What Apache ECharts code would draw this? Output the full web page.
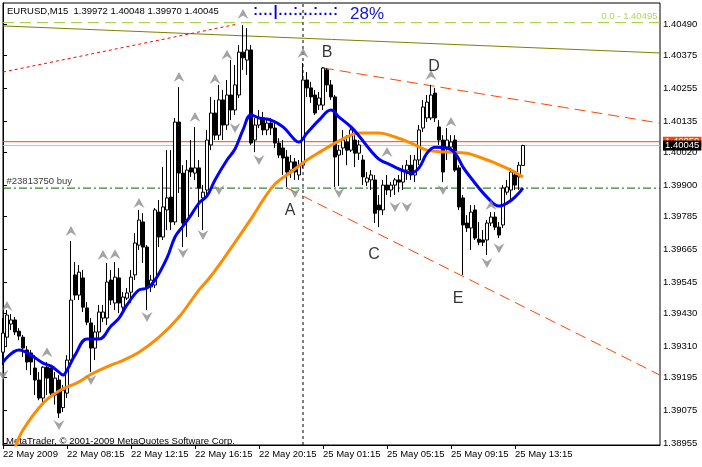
<!DOCTYPE html>
<html><head><meta charset="utf-8">
<script src="https://cdn.jsdelivr.net/npm/echarts@6/dist/echarts.min.js"></script>
<style>html,body{margin:0;padding:0;background:#fff}#c{width:702px;height:467px}</style>
</head><body><div id="c"></div>
<script>
const symbolInfo = 'EURUSD,M15  1.39972 1.40048 1.39970 1.40045';
const copyright = 'MetaTrader, \u00a9 2001-2009 MetaQuotes Software Corp.';
const progressText = ':...|...:...:...:';
const progressPct = '28%';
const timeLabels = ['22 May 2009','22 May 08:15','22 May 12:15','22 May 16:15','22 May 20:15','25 May 01:15','25 May 05:15','25 May 09:15','25 May 13:15'];
const timeLabelBars = [0,16,32,48,64,80,96,112,128];
const priceTicks = [1.38955,1.39075,1.39195,1.39310,1.39430,1.39545,1.39665,1.39785,1.39900,1.40020,1.40135,1.40255,1.40375,1.40490];
// [open, close, low, high]
const candles = [
[1.39288,1.39358,1.39241,1.39413],[1.39343,1.39424,1.39307,1.39442],[1.39391,1.39406,1.39369,1.39428],[1.39406,1.39362,1.39351,1.39417],[1.39365,1.39347,1.39332,1.39376],
[1.39343,1.39303,1.39270,1.39351],[1.39296,1.39252,1.39222,1.39310],[1.39285,1.39252,1.39204,1.39296],[1.39230,1.39186,1.39131,1.39277],[1.39186,1.39120,1.39112,1.39215],
[1.39120,1.39233,1.39105,1.39237],[1.39233,1.39193,1.39131,1.39252],[1.39230,1.39138,1.39120,1.39230],[1.39131,1.39193,1.39096,1.39215],[1.39186,1.39065,1.39047,1.39204],
[1.39085,1.39149,1.39069,1.39168],[1.39138,1.39259,1.39120,1.39277],[1.39259,1.39479,1.39241,1.39695],[1.39571,1.39497,1.39479,1.39618],[1.39497,1.39581,1.39479,1.39607],
[1.39560,1.39453,1.39435,1.39589],[1.39450,1.39398,1.39387,1.39472],[1.39395,1.39303,1.39215,1.39413],[1.39303,1.39362,1.39259,1.39387],[1.39362,1.39435,1.39340,1.39461],
[1.39413,1.39435,1.39398,1.39461],[1.39413,1.39545,1.39387,1.39615],[1.39552,1.39479,1.39461,1.39589],[1.39468,1.39563,1.39442,1.39618],[1.39560,1.39468,1.39431,1.39596],
[1.39453,1.39490,1.39424,1.39508],[1.39486,1.39505,1.39479,1.39523],[1.39508,1.39563,1.39468,1.39589],[1.39571,1.39688,1.39552,1.39724],[1.39680,1.39772,1.39662,1.39809],
[1.39765,1.39673,1.39615,1.39797],[1.39673,1.39527,1.39442,1.39680],[1.39527,1.39552,1.39508,1.39571],[1.39534,1.39809,1.39523,1.39816],[1.39801,1.39710,1.39673,1.39845],
[1.39710,1.39820,1.39699,1.39966],[1.39809,1.39853,1.39735,1.40028],[1.39856,1.39765,1.39735,1.40028],[1.39765,1.40131,1.39754,1.40146],[1.40131,1.39944,1.39871,1.40259],
[1.39944,1.39761,1.39673,1.39973],[1.39772,1.39955,1.39710,1.39992],[1.39963,1.39948,1.39930,1.40065],[1.39944,1.39963,1.39919,1.40113],[1.39963,1.39889,1.39783,1.39992],
[1.39853,1.39874,1.39735,1.39900],[1.39882,1.40065,1.39864,1.40102],[1.40047,1.40164,1.40028,1.40223],[1.40164,1.40083,1.40065,1.40212],[1.40083,1.40212,1.40065,1.40267],
[1.40212,1.40120,1.40065,1.40248],[1.40120,1.40230,1.40102,1.40285],[1.40230,1.40175,1.40138,1.40358],[1.40175,1.40267,1.40157,1.40340],[1.40230,1.40387,1.40219,1.40413],
[1.40387,1.40366,1.40322,1.40486],[1.40358,1.40395,1.40303,1.40475],[1.40395,1.40054,1.40047,1.40413],[1.40065,1.40120,1.40021,1.40146],[1.40120,1.40146,1.40109,1.40175],
[1.40146,1.40102,1.40083,1.40168],[1.40102,1.40127,1.40083,1.40146],[1.40127,1.40109,1.40083,1.40146],[1.40109,1.40054,1.40036,1.40138],[1.40054,1.40010,1.39999,1.40072],
[1.40036,1.39999,1.39937,1.40065],[1.40003,1.39948,1.39893,1.40028],[1.39955,1.39985,1.39926,1.40010],[1.39985,1.39948,1.39919,1.39999],[1.39937,1.39973,1.39919,1.39992],
[1.39973,1.40285,1.39963,1.40347],[1.40285,1.40256,1.40223,1.40314],[1.40256,1.40223,1.40201,1.40278],[1.40230,1.40164,1.40157,1.40248],[1.40193,1.40219,1.40175,1.40241],
[1.40193,1.40329,1.40175,1.40333],[1.40322,1.40267,1.40241,1.40329],[1.40267,1.40223,1.40212,1.40285],[1.40223,1.40003,1.39893,1.40230],[1.40010,1.40028,1.39897,1.40047],
[1.40036,1.40065,1.40010,1.40102],[1.40058,1.40028,1.39973,1.40083],[1.40028,1.40102,1.40021,1.40120],[1.40065,1.40017,1.39966,1.40083],[1.40017,1.40047,1.39992,1.40065],
[1.39992,1.39930,1.39900,1.40010],[1.39911,1.39926,1.39897,1.39948],[1.39919,1.39937,1.39882,1.39955],[1.39919,1.39797,1.39761,1.39937],[1.39827,1.39809,1.39746,1.39864],
[1.39809,1.39900,1.39790,1.39919],[1.39900,1.39882,1.39864,1.39937],[1.39882,1.39900,1.39856,1.39911],[1.39900,1.39919,1.39864,1.39926],[1.39919,1.39911,1.39874,1.39937],
[1.39911,1.39955,1.39882,1.39973],[1.39955,1.39973,1.39919,1.39992],[1.39973,1.39937,1.39919,1.40010],[1.39937,1.39992,1.39911,1.40010],[1.39992,1.40102,1.39973,1.40120],
[1.40109,1.40186,1.40094,1.40212],[1.40146,1.40204,1.40131,1.40230],[1.40146,1.40230,1.40138,1.40267],[1.40237,1.40146,1.40131,1.40256],[1.40113,1.40065,1.40047,1.40138],
[1.40065,1.39948,1.39911,1.40083],[1.40039,1.40065,1.39992,1.40109],[1.40039,1.40058,1.40028,1.40083],[1.40065,1.39955,1.39948,1.40083],[1.39963,1.39820,1.39809,1.39973],
[1.39853,1.39754,1.39571,1.39864],[1.39761,1.39743,1.39728,1.39790],[1.39743,1.39801,1.39662,1.39827],[1.39809,1.39706,1.39699,1.39827],[1.39702,1.39691,1.39680,1.39765],
[1.39699,1.39691,1.39677,1.39735],[1.39699,1.39761,1.39644,1.39772],[1.39761,1.39783,1.39750,1.39801],[1.39783,1.39746,1.39735,1.39801],[1.39746,1.39717,1.39706,1.39765],
[1.39754,1.39889,1.39743,1.39900],[1.39874,1.39893,1.39864,1.39919],[1.39882,1.39948,1.39838,1.39963],[1.39937,1.39900,1.39882,1.39948],[1.39930,1.39973,1.39882,1.39985],
[1.39972,1.40045,1.39970,1.40048]
];
// [bar, price]
const fastMA = [[0,1.39252],[4,1.39296],[7,1.39277],[10,1.39248],[12,1.39237],[14,1.39215],[15,1.39204],[16,1.39222],[18,1.39277],[21,1.39336],[24,1.39336],[27,1.39384],[29,1.39413],[31,1.39461],[34,1.39516],[36,1.39523],[38,1.39552],[41,1.39633],[43,1.39710],[45,1.39750],[47,1.39790],[49,1.39834],[51,1.39860],[53,1.39919],[56,1.39992],[58,1.40032],[60,1.40102],[62,1.40157],[64,1.40146],[67,1.40138],[70,1.40113],[73,1.40065],[74,1.40058],[76,1.40091],[79,1.40138],[82,1.40175],[84,1.40149],[87,1.40113],[89,1.40080],[92,1.40025],[94,1.39995],[97,1.39973],[99,1.39959],[102,1.39944],[104,1.39963],[106,1.40017],[108,1.40039],[111,1.40036],[113,1.40017],[115,1.39966],[117,1.39926],[121,1.39856],[124,1.39823],[126,1.39834],[128,1.39856],[130,1.39889]];
const slowMA = [[3,1.38937],[5,1.39003],[10,1.39101],[14,1.39146],[19,1.39179],[22,1.39207],[27,1.39241],[29,1.39252],[34,1.39288],[39,1.39343],[44,1.39417],[49,1.39516],[52,1.39567],[57,1.39669],[62,1.39776],[65,1.39845],[68,1.39904],[72,1.39948],[76,1.39992],[80,1.40028],[83,1.40054],[87,1.40083],[89,1.40091],[94,1.40091],[98,1.40076],[102,1.40054],[106,1.40028],[111,1.40021],[116,1.40017],[119,1.40003],[123,1.39981],[127,1.39955],[130,1.39930]];
const upFractals = [[1,1.39457],[11,1.39288],[17,1.39732],[25,1.39644],[28,1.39647],[34,1.39834],[44,1.40296],[48,1.40149],[53,1.40289],[56,1.40377],[60,1.40527],[75,1.40384],[96,1.40021],[107,1.40303],[112,1.40131],[122,1.39827]];
const downFractals = [[0,1.39204],[14,1.39021],[22,1.39186],[36,1.39417],[45,1.39651],[50,1.39717],[54,1.39882],[58,1.40109],[64,1.39992],[73,1.39871],[84,1.39871],[98,1.39820],[101,1.39820],[110,1.39882],[121,1.39615],[124,1.39669]];
const waveLabels = [['A',71.75,1.39805],['B',81,1.40384],['C',92.75,1.39644],['D',107.75,1.40333],['E',113.75,1.39483]];
const oliveLine = [[0,1.40483],[164.25,1.40384]];
const redDotLine = [[0,1.40314],[58,1.40488]];
const upperChannel = [[80,1.40329],[164.25,1.40127]];
const lowerChannel = [[71,1.39889],[164.25,1.39204]];
const fibLevel = 1.40495, redLevel = 1.40059, bidLevel = 1.40045, orderLevel = 1.39889, markerBar = 75;
const firstBar = 0, lastBar = 164.25;
const fibText = '0.0 - 1.40495';
const orderText = '#23813750 buy';

const FONT = 'Liberation Sans';
const chart = echarts.init(document.getElementById('c'), null, {renderer: 'canvas'});
const upPath = 'path://M5,0 L10,10 L5,6.5 L0,10 Z';
const downPath = 'path://M0,0 L5,3.5 L10,0 L5,10 Z';
function seg(data, color, type, width, extra) {
  return Object.assign({type: 'line', data: data, showSymbol: false, symbol: 'none', silent: true, z: 1,
    lineStyle: {color: color, type: type, width: width || 1}}, extra || {});
}
function level(v) { return [[firstBar, v], [lastBar, v]]; }
function boxLabel(v, bg) {
  return {endLabel: {show: true, formatter: v.toFixed(5), color: '#fff', backgroundColor: bg, padding: [0, 2], lineHeight: 10,
    fontSize: 9.5, fontFamily: FONT, distance: 3}};
}
const progRich = progressText.split('').map(ch => ch === '|' ? '{b||}' : (ch === ':' ? '{c|:}' : '{d|.}')).join('');
chart.setOption({
  animation: false,
  backgroundColor: '#fff',
  textStyle: {fontFamily: FONT},
  grid: {left: 3, right: 42, top: 3, bottom: 22, show: true, borderColor: '#000', borderWidth: 1, backgroundColor: 'transparent'},
  xAxis: {type: 'value', min: firstBar, max: lastBar, splitLine: {show: false},
    axisLine: {show: true, lineStyle: {color: '#000'}},
    axisTick: {show: true, length: 4, customValues: timeLabelBars, lineStyle: {color: '#000'}},
    axisLabel: {customValues: timeLabelBars, align: 'left', margin: 4, color: '#000', fontSize: 9.5, fontFamily: FONT,
      formatter: v => timeLabels[timeLabelBars.indexOf(Math.round(v))] || ''}},
  yAxis: {type: 'value', position: 'right', min: 1.38948, max: 1.40567, splitLine: {show: false}, scale: true,
    axisLine: {show: true, lineStyle: {color: '#000'}},
    axisTick: {show: true, length: 4, customValues: priceTicks, lineStyle: {color: '#000'}},
    axisLabel: {customValues: priceTicks, margin: 3, color: '#000', fontSize: 9.5, fontFamily: FONT, formatter: v => v.toFixed(5)}},
  graphic: [
    {type: 'text', left: 7, top: 6, style: {text: symbolInfo, fill: '#000', font: '9.5px ' + FONT}},
    {type: 'text', left: 253, top: 4, style: {text: progRich, fill: '#0000E6',
      rich: {
        c: {width: 5, align: 'center', fontSize: 14, fontWeight: 'bold', fontFamily: FONT, fill: '#0000E6', lineHeight: 16},
        d: {width: 5, align: 'center', fontSize: 14, fontWeight: 'bold', fontFamily: FONT, fill: '#0000E6', lineHeight: 16},
        b: {width: 5, align: 'center', fontSize: 15, fontWeight: 'bold', fontFamily: FONT, fill: '#0000E6', lineHeight: 16}
      }}},
    {type: 'text', left: 350, top: 6, style: {text: progressPct, fill: '#1414D2', font: '17px ' + FONT}},
    {type: 'text', left: 6, top: 436, style: {text: copyright, fill: '#000', font: '9.5px ' + FONT}}
  ],
  series: [
    seg(level(fibLevel), '#9ACD32', [11, 6], 1),
    seg(level(orderLevel), '#006400', [8, 3, 2, 3], 1),
    seg([[markerBar, 1.38948], [markerBar, 1.40567]], '#000', [3, 3], 1),
    seg(level(redLevel), '#FF4500', 'solid', 1, boxLabel(redLevel, '#FF4500')),
    seg(level(bidLevel), '#C0C0C0', 'solid', 1, boxLabel(bidLevel, '#000')),
    seg(oliveLine, '#808000', 'solid', 1),
    seg(redDotLine, '#FF0000', [3, 3], 1),
    seg(upperChannel, '#FF4500', [11, 6], 1),
    seg(lowerChannel, '#FF4500', [11, 6], 1),
    {type: 'candlestick', z: 2, barWidth: 3,
      data: candles.map((c, i) => [i, c[0], c[1], c[2], c[3]]),
      encode: {x: 0, y: [1, 2, 3, 4]},
      itemStyle: {color: '#fff', color0: '#000', borderColor: '#000', borderColor0: '#000', borderWidth: 1}},
    {type: 'line', data: slowMA, showSymbol: false, symbol: 'none', smooth: 0.4, z: 3, silent: true,
      lineStyle: {color: '#FF8C00', width: 3}},
    {type: 'line', data: fastMA, showSymbol: false, symbol: 'none', smooth: 0.4, z: 4, silent: true,
      lineStyle: {color: '#0000FF', width: 3}},
    {type: 'scatter', data: upFractals, symbol: upPath, symbolSize: [11, 10], z: 5, silent: true, itemStyle: {color: '#8C8C8C'}},
    {type: 'scatter', data: downFractals, symbol: downPath, symbolSize: [11, 10], z: 5, silent: true, itemStyle: {color: '#8C8C8C'}},
    {type: 'scatter', symbolSize: 1, z: 6, silent: true, itemStyle: {color: 'transparent'},
      data: [
        {value: [lastBar, fibLevel], label: {show: true, formatter: fibText, position: [-2, -1], align: 'right', verticalAlign: 'bottom', color: '#9ACD32', fontSize: 9.5, fontFamily: FONT}},
        {value: [firstBar, orderLevel], label: {show: true, formatter: orderText, position: [4, -1], align: 'left', verticalAlign: 'bottom', color: '#000', fontSize: 9.5, fontFamily: FONT}}
      ]},
    {type: 'scatter', data: waveLabels.map(w => ({name: w[0], value: [w[1], w[2]]})), symbolSize: 1, z: 6, silent: true,
      itemStyle: {color: 'transparent'},
      label: {show: true, position: 'inside', formatter: p => p.name, color: '#000', fontSize: 16, fontFamily: FONT}}
  ]
});
</script></body></html>
